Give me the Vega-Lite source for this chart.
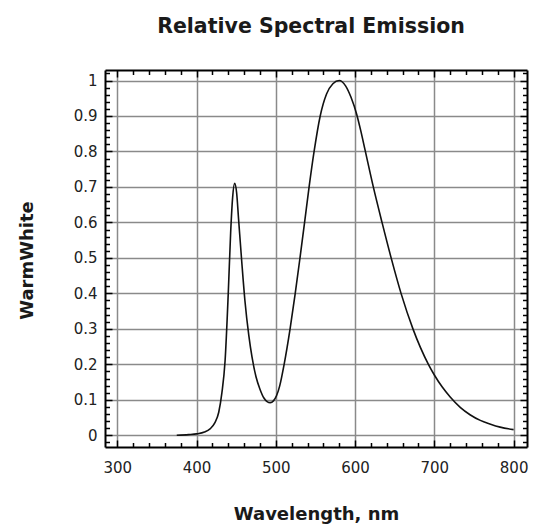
{
  "$schema": "https://vega.github.io/schema/vega-lite/v6.json",
  "width": 422,
  "height": 377,
  "autosize": "none",
  "padding": {"left": 105, "top": 70, "right": 7, "bottom": 80},
  "background": "white",
  "title": {
    "text": "Relative Spectral Emission",
    "font": "DejaVu Sans",
    "fontSize": 20.5,
    "fontWeight": "bold",
    "color": "#1a1a1a",
    "anchor": "middle",
    "baseline": "alphabetic",
    "offset": 16,
    "dx": -5
  },
  "config": {
    "view": {"stroke": null},
    "axis": {
      "labelFont": "DejaVu Sans",
      "labelFontSize": 15,
      "labelColor": "#222222",
      "titleFont": "DejaVu Sans",
      "titleFontSize": 18,
      "titleFontWeight": "bold",
      "titleColor": "#1a1a1a",
      "domainColor": "#000000",
      "domainWidth": 2,
      "tickColor": "#000000",
      "tickWidth": 1.5,
      "gridColor": "#8a8a8a",
      "gridWidth": 1.5,
      "gridOpacity": 1
    }
  },
  "data": {
    "values": [
      {"wavelength": 375, "emission": 0.0},
      {"wavelength": 390, "emission": 0.002},
      {"wavelength": 400, "emission": 0.004},
      {"wavelength": 410, "emission": 0.009},
      {"wavelength": 417, "emission": 0.018},
      {"wavelength": 423, "emission": 0.035},
      {"wavelength": 428, "emission": 0.065},
      {"wavelength": 432, "emission": 0.12},
      {"wavelength": 436, "emission": 0.21},
      {"wavelength": 440, "emission": 0.4},
      {"wavelength": 443, "emission": 0.57},
      {"wavelength": 445.5, "emission": 0.67},
      {"wavelength": 448, "emission": 0.71},
      {"wavelength": 450.5, "emission": 0.685},
      {"wavelength": 453, "emission": 0.61},
      {"wavelength": 457, "emission": 0.49},
      {"wavelength": 461, "emission": 0.38},
      {"wavelength": 466, "emission": 0.28},
      {"wavelength": 470, "emission": 0.22},
      {"wavelength": 475, "emission": 0.165},
      {"wavelength": 480, "emission": 0.13},
      {"wavelength": 485, "emission": 0.105},
      {"wavelength": 489, "emission": 0.095},
      {"wavelength": 493, "emission": 0.092},
      {"wavelength": 497, "emission": 0.097},
      {"wavelength": 501, "emission": 0.112},
      {"wavelength": 505, "emission": 0.14},
      {"wavelength": 510.5, "emission": 0.2},
      {"wavelength": 518, "emission": 0.3},
      {"wavelength": 524.5, "emission": 0.4},
      {"wavelength": 530.5, "emission": 0.5},
      {"wavelength": 536.3, "emission": 0.6},
      {"wavelength": 542, "emission": 0.7},
      {"wavelength": 548.3, "emission": 0.8},
      {"wavelength": 556, "emission": 0.9},
      {"wavelength": 564, "emission": 0.962},
      {"wavelength": 572, "emission": 0.991},
      {"wavelength": 580, "emission": 1.0},
      {"wavelength": 588, "emission": 0.985},
      {"wavelength": 595, "emission": 0.952},
      {"wavelength": 602, "emission": 0.905},
      {"wavelength": 607, "emission": 0.86},
      {"wavelength": 612.5, "emission": 0.805},
      {"wavelength": 623, "emission": 0.7},
      {"wavelength": 634, "emission": 0.6},
      {"wavelength": 645.5, "emission": 0.5},
      {"wavelength": 658, "emission": 0.4},
      {"wavelength": 673, "emission": 0.3},
      {"wavelength": 692.5, "emission": 0.2},
      {"wavelength": 700, "emission": 0.17},
      {"wavelength": 710, "emission": 0.136},
      {"wavelength": 720, "emission": 0.108},
      {"wavelength": 733, "emission": 0.078},
      {"wavelength": 745, "emission": 0.058},
      {"wavelength": 758, "emission": 0.042},
      {"wavelength": 770, "emission": 0.032},
      {"wavelength": 783, "emission": 0.023},
      {"wavelength": 800, "emission": 0.016}
    ]
  },
  "resolve": {"axis": {"x": "independent", "y": "independent"}},
  "layer": [
    {
      "mark": {"type": "line", "color": "#111111", "strokeWidth": 1.6, "interpolate": "monotone"},
      "encoding": {
        "x": {
          "field": "wavelength", "type": "quantitative",
          "scale": {"domain": [284.5, 816.9], "nice": false, "zero": false},
          "axis": {
            "orient": "bottom",
            "values": [300, 400, 500, 600, 700, 800],
            "ticks": false, "grid": true, "domain": true,
            "labelPadding": 13,
            "title": "Wavelength, nm",
            "titleY": 72, "titleBaseline": "alphabetic", "titleAnchor": "middle"
          }
        },
        "y": {
          "field": "emission", "type": "quantitative",
          "scale": {"domain": [-0.033, 1.0296], "nice": false, "zero": false},
          "axis": {
            "orient": "left",
            "values": [0, 0.1, 0.2, 0.3, 0.4, 0.5, 0.6, 0.7, 0.8, 0.9, 1],
            "format": "~g",
            "ticks": false, "grid": true, "domain": true,
            "labelPadding": 8,
            "title": "WarmWhite",
            "titleX": -73, "titleY": 190, "titleAngle": -90,
            "titleBaseline": "alphabetic", "titleAlign": "center"
          }
        }
      }
    },
    {
      "mark": {"type": "line", "strokeOpacity": 0},
      "encoding": {
        "x": {
          "field": "wavelength", "type": "quantitative",
          "axis": {"orient": "bottom", "values": [300, 400, 500, 600, 700, 800], "tickSize": -7, "labels": false, "grid": false, "domain": false, "title": null}
        },
        "y": {
          "field": "emission", "type": "quantitative",
          "axis": {"orient": "left", "values": [0, 0.1, 0.2, 0.3, 0.4, 0.5, 0.6, 0.7, 0.8, 0.9, 1], "tickSize": -7, "labels": false, "grid": false, "domain": false, "title": null}
        }
      }
    },
    {
      "mark": {"type": "line", "strokeOpacity": 0},
      "encoding": {
        "x": {
          "field": "wavelength", "type": "quantitative",
          "axis": {"orient": "top", "values": [300, 400, 500, 600, 700, 800], "tickSize": -7, "labels": false, "grid": false, "domain": true, "title": null}
        },
        "y": {
          "field": "emission", "type": "quantitative",
          "axis": {"orient": "right", "values": [0, 0.1, 0.2, 0.3, 0.4, 0.5, 0.6, 0.7, 0.8, 0.9, 1], "tickSize": -7, "labels": false, "grid": false, "domain": true, "title": null}
        }
      }
    },
    {
      "mark": {"type": "line", "strokeOpacity": 0},
      "encoding": {
        "x": {
          "field": "wavelength", "type": "quantitative",
          "axis": {"orient": "bottom", "values": [320, 340, 360, 380, 420, 440, 460, 480, 520, 540, 560, 580, 620, 640, 660, 680, 720, 740, 760, 780], "tickSize": -4.5, "labels": false, "grid": false, "domain": false, "title": null}
        },
        "y": {
          "field": "emission", "type": "quantitative",
          "axis": {"orient": "left", "values": [-0.02, 0.02, 0.04, 0.06, 0.08, 0.12, 0.14, 0.16, 0.18, 0.22, 0.24, 0.26, 0.28, 0.32, 0.34, 0.36, 0.38, 0.42, 0.44, 0.46, 0.48, 0.52, 0.54, 0.56, 0.58, 0.62, 0.64, 0.66, 0.68, 0.72, 0.74, 0.76, 0.78, 0.82, 0.84, 0.86, 0.88, 0.92, 0.94, 0.96, 0.98, 1.02], "tickSize": -4.5, "labels": false, "grid": false, "domain": false, "title": null}
        }
      }
    },
    {
      "mark": {"type": "line", "strokeOpacity": 0},
      "encoding": {
        "x": {
          "field": "wavelength", "type": "quantitative",
          "axis": {"orient": "top", "values": [320, 340, 360, 380, 420, 440, 460, 480, 520, 540, 560, 580, 620, 640, 660, 680, 720, 740, 760, 780], "tickSize": -4.5, "labels": false, "grid": false, "domain": false, "title": null}
        },
        "y": {
          "field": "emission", "type": "quantitative",
          "axis": {"orient": "right", "values": [-0.02, 0.02, 0.04, 0.06, 0.08, 0.12, 0.14, 0.16, 0.18, 0.22, 0.24, 0.26, 0.28, 0.32, 0.34, 0.36, 0.38, 0.42, 0.44, 0.46, 0.48, 0.52, 0.54, 0.56, 0.58, 0.62, 0.64, 0.66, 0.68, 0.72, 0.74, 0.76, 0.78, 0.82, 0.84, 0.86, 0.88, 0.92, 0.94, 0.96, 0.98, 1.02], "tickSize": -4.5, "labels": false, "grid": false, "domain": false, "title": null}
        }
      }
    }
  ]
}
